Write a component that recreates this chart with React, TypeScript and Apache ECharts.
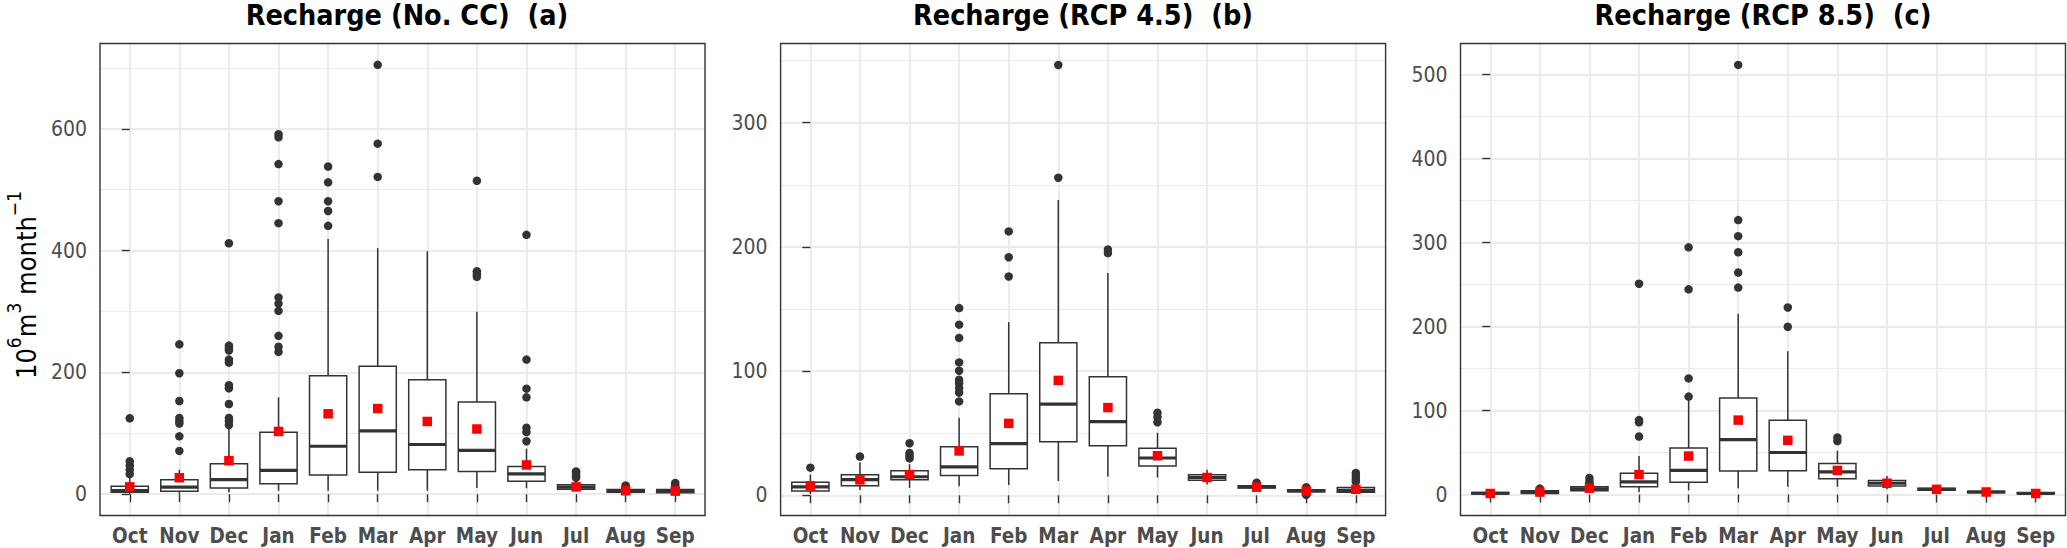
import React, { useEffect, useRef } from 'react';
import * as echarts from 'echarts';

const months = ['Oct', 'Nov', 'Dec', 'Jan', 'Feb', 'Mar', 'Apr', 'May', 'Jun', 'Jul', 'Aug', 'Sep'];

// [lower whisker, Q1, median, Q3, upper whisker]
const statsNoCC = [
  [0, 3, 6, 13, 28],
  [0.5, 5, 11.5, 23.6, 40],
  [3, 10.3, 24, 50, 108],
  [5.7, 17.2, 39, 101.6, 159],
  [5.7, 31.6, 78.7, 194.5, 419],
  [5.7, 36, 104, 210, 404],
  [5.7, 40, 81.6, 188, 399],
  [10.3, 37.4, 71.8, 151.5, 299.5],
  [9.8, 21.3, 33.3, 45.4, 74.7],
  [5, 8, 11.5, 15.5, 22],
  [1, 3, 5, 7.6, 11],
  [1, 2.3, 5, 7.6, 12],
];
const outliersNoCC = [
  [124.6, 54, 47, 40, 33],
  [246, 198.6, 153, 125, 120, 116, 95, 71],
  [412, 244, 240, 236, 221, 216, 179, 174, 148, 125, 120, 113.6],
  [591, 586, 542, 481, 445, 323, 313, 301, 260, 242, 233.6],
  [538, 512, 481, 465, 440.6],
  [705, 575.5, 521],
  [],
  [514.6, 366, 361, 357],
  [425.8, 221, 173.3, 159, 109, 102, 87],
  [37.3, 34, 30, 27],
  [14.4],
  [18.4, 14],
];
const meansNoCC = [12, 27, 55, 103, 132, 140.6, 119.4, 107, 48, 12, 5.7, 5];

const statsRcp45 = [
  [1, 3.4, 6.7, 10.4, 16.6],
  [4.3, 7.6, 12.6, 16.6, 26.4],
  [5.9, 12.4, 14.9, 19.7, 25],
  [7.3, 16, 22.8, 39, 62.4],
  [8.2, 21.3, 41.6, 81.8, 139.4],
  [11.5, 43, 73.4, 122.8, 237.8],
  [15.2, 39.9, 59.3, 95.5, 179],
  [14.3, 23.6, 30, 37.9, 50.3],
  [8.7, 12, 14.3, 16.6, 20.5],
  [4.5, 5.9, 6.7, 7.6, 9],
  [2, 2.8, 3.5, 4.5, 5.5],
  [1, 2.5, 4, 6.2, 8],
];
const outliersRcp45 = [
  [22.2],
  [31.2],
  [41.9, 34, 32, 29.7],
  [150.7, 137.4, 126.7, 107, 100.3, 93, 90, 86.3, 82.6, 75.6],
  [212.5, 191.7, 176.2],
  [346.5, 255.7],
  [197.9, 195],
  [66.4, 63, 58.8],
  [],
  [10.1],
  [0.3, 6.5],
  [18, 15.5, 13, 11],
];
const meansRcp45 = [7.6, 12.4, 16.6, 35.7, 57.9, 92.5, 70.6, 31.8, 14.3, 6.5, 3.4, 4.8];

const statsRcp85 = [
  [0, 0.5, 1.5, 2.5, 3.5],
  [0.5, 1.2, 2.9, 4.6, 6],
  [2, 4.6, 6.7, 9.2, 11],
  [2.9, 9.2, 15, 25.4, 45.8],
  [5, 14.6, 28.7, 55.4, 112.4],
  [7.5, 28, 65.4, 114.9, 215.2],
  [9.2, 28.3, 50, 88.3, 170.7],
  [9.2, 18.7, 27, 37, 52],
  [6.2, 10, 13.4, 16.7, 22],
  [4, 5, 6.2, 7.5, 9],
  [1.5, 2, 3, 4, 5],
  [0, 0.8, 1.2, 2.5, 3.5],
];
const outliersRcp85 = [
  [],
  [7],
  [19.6, 15.4, 12.5],
  [251, 88.6, 86, 69],
  [294.3, 244.3, 138.2, 116.6],
  [511.5, 326.7, 307.6, 288.4, 264.3, 246.4],
  [222.7, 199.7],
  [67.9, 63.7],
  [],
  [],
  [],
  [],
];
const meansRcp85 = [1.2, 2.9, 7.5, 23.7, 45.8, 88.6, 64.5, 28.7, 13.4, 6.2, 3, 1.2];

const titles = ['Recharge (No. CC)  (a)', 'Recharge (RCP 4.5)  (b)', 'Recharge (RCP 8.5)  (c)'];
const yTicksNoCC = [0, 200, 400, 600];
const yTicksRcp45 = [0, 100, 200, 300];
const yTicksRcp85 = [0, 100, 200, 300, 400, 500];

const FONT = '"DejaVu Sans Condensed", "DejaVu Sans", sans-serif';
const DARK = '#333333';
const GRID = '#ebebeb';

const panels = [
  { stats: statsNoCC, out: outliersNoCC, means: meansNoCC, ticks: yTicksNoCC, step: 200, yMin: -35, yMax: 740, left: 100, titleX: 407 },
  { stats: statsRcp45, out: outliersRcp45, means: meansRcp45, ticks: yTicksRcp45, step: 100, yMin: -16.3, yMax: 363.8, left: 780.6, titleX: 1083 },
  { stats: statsRcp85, out: outliersRcp85, means: meansRcp85, ticks: yTicksRcp85, step: 100, yMin: -25, yMax: 537, left: 1460.5, titleX: 1763 },
];

const GRID_TOP = 43.5;
const GRID_H = 472;
const GRID_W = 605;
const idx = months.map((_, i) => i);

function renderBox(params: any, api: any) {
  const x = api.value(0);
  const lo = api.coord([x, api.value(1)]);
  const q1 = api.coord([x, api.value(2)]);
  const md = api.coord([x, api.value(3)]);
  const q3 = api.coord([x, api.value(4)]);
  const hi = api.coord([x, api.value(5)]);
  const hw = api.size([0.75, 0])[0] / 2;
  const st = { stroke: DARK, lineWidth: 1.5 };
  return {
    type: 'group',
    children: [
      { type: 'line', shape: { x1: hi[0], y1: hi[1], x2: q3[0], y2: q3[1] }, style: st },
      { type: 'line', shape: { x1: q1[0], y1: q1[1], x2: lo[0], y2: lo[1] }, style: st },
      {
        type: 'rect',
        shape: { x: q3[0] - hw, y: q3[1], width: 2 * hw, height: q1[1] - q3[1] },
        style: { fill: '#ffffff', stroke: DARK, lineWidth: 1.5 },
      },
      { type: 'line', shape: { x1: md[0] - hw, y1: md[1], x2: md[0] + hw, y2: md[1] }, style: { stroke: DARK, lineWidth: 3.2 } },
    ],
  };
}

function buildOption() {
  const grid = panels.map((p) => ({
    left: p.left,
    top: GRID_TOP,
    width: GRID_W,
    height: GRID_H,
    show: true,
    backgroundColor: '#ffffff',
    borderWidth: 0,
    outerBoundsMode: 'none',
    containLabel: false,
  }));
  const xAxis = panels.map((p, i) => ({
    gridIndex: i,
    type: 'value',
    min: -0.6,
    max: 11.6,
    minInterval: 1,
    maxInterval: 1,
    axisLine: { show: false },
    axisTick: { show: true, length: 8, lineStyle: { color: DARK, width: 1.4 }, customValues: idx },
    axisLabel: {
      customValues: idx,
      formatter: (v: number) => months[Math.round(v)] ?? '',
      color: '#4d4d4d',
      fontFamily: FONT,
      fontWeight: 'bold',
      fontSize: 20.5,
      margin: 10,
    },
    splitLine: { show: true, lineStyle: { color: GRID, width: 2 } },
  }));
  const yAxis = panels.map((p, i) => ({
    gridIndex: i,
    type: 'value',
    min: p.yMin,
    max: p.yMax,
    minInterval: p.step,
    maxInterval: p.step,
    axisLine: { show: false },
    axisTick: { show: true, length: 8, lineStyle: { color: DARK, width: 1.4 }, customValues: p.ticks },
    axisLabel: {
      customValues: p.ticks,
      formatter: (v: number) => (Math.abs(v % p.step) < 1e-6 ? String(v) : ''),
      color: '#4d4d4d',
      fontFamily: FONT,
      fontSize: 21,
      margin: 13,
    },
    splitLine: { show: true, lineStyle: { color: GRID, width: 2 } },
    minorTick: { show: false, splitNumber: 2 },
    minorSplitLine: { show: true, lineStyle: { color: GRID, width: 1 } },
  }));
  const series: any[] = [];
  panels.forEach((p, i) => {
    series.push({
      type: 'custom',
      xAxisIndex: i,
      yAxisIndex: i,
      renderItem: renderBox,
      encode: { x: 0, y: [1, 2, 3, 4, 5] },
      data: p.stats.map((s, k) => [k, ...s]),
      z: 2,
    });
    const outData: number[][] = [];
    p.out.forEach((vals, k) => vals.forEach((v) => outData.push([k, v])));
    series.push({
      type: 'scatter',
      xAxisIndex: i,
      yAxisIndex: i,
      symbol: 'circle',
      symbolSize: 8.5,
      itemStyle: { color: DARK, opacity: 1 },
      data: outData,
      z: 3,
    });
    series.push({
      type: 'scatter',
      xAxisIndex: i,
      yAxisIndex: i,
      symbol: 'rect',
      symbolSize: 9.5,
      itemStyle: { color: '#ff0000', opacity: 1 },
      data: p.means.map((m, k) => [k, m]),
      z: 4,
    });
  });
  const graphic: any[] = [];
  panels.forEach((p, i) => {
    graphic.push({
      type: 'rect',
      z: 50,
      shape: { x: p.left, y: GRID_TOP, width: GRID_W, height: GRID_H },
      style: { fill: 'none', stroke: DARK, lineWidth: 1.4 },
      silent: true,
    });
    graphic.push({
      type: 'text',
      z: 50,
      x: p.titleX,
      y: 15.6,
      style: {
        text: titles[i],
        fill: '#000000',
        font: `bold 28.5px ${FONT}`,
        align: 'center',
        verticalAlign: 'middle',
      },
    });
  });
  graphic.push({
    type: 'text',
    z: 50,
    x: 22,
    y: 285,
    rotation: Math.PI / 2,
    style: {
      text: '{n|10}{s|6}{n|m}{s|3}{n| month}{s|−1}',
      align: 'center',
      verticalAlign: 'middle',
      rich: {
        n: { fontFamily: FONT, fontSize: 27, lineHeight: 36, verticalAlign: 'bottom', fill: '#000000' },
        s: { fontFamily: FONT, fontSize: 19, lineHeight: 20, verticalAlign: 'top', fill: '#000000' },
      },
    },
  });
  return { animation: false, backgroundColor: '#ffffff', grid, xAxis, yAxis, series, graphic };
}

export default function App() {
  const ref = useRef<HTMLDivElement>(null);
  useEffect(() => {
    if (!ref.current) return;
    const chart = echarts.init(ref.current, null, { renderer: 'svg' });
    chart.setOption(buildOption() as any);
    return () => chart.dispose();
  }, []);
  return <div ref={ref} style={{ position: 'absolute', left: 0, top: 0, width: 2067, height: 548 }} />;
}
